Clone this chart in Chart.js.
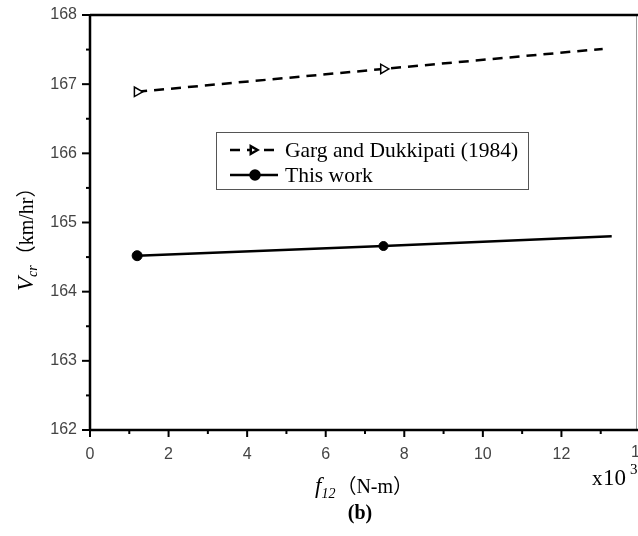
<!DOCTYPE html>
<html>
<head>
<meta charset="utf-8">
<script src="https://cdn.jsdelivr.net/npm/chart.js@4/dist/chart.umd.min.js"></script>
<style>
html,body{margin:0;padding:0;background:#fff;}
#wrap{width:638px;height:536px;position:relative;overflow:hidden;}
</style>
</head>
<body>
<div id="wrap"><canvas id="c" width="638" height="536"></canvas></div>
<script>
// ---- data ----
const gargX = [1.2, 7.47, 13.05];
const gargVcr = [166.89, 167.22, 167.51];
const thisX = [1.2, 7.47, 13.28];
const thisVcr = [164.52, 164.66, 164.80];
const seriesNames = ['Garg and Dukkipati (1984)', 'This work'];
const xTicks = [0, 2, 4, 6, 8, 10, 12, 14];
const yTicks = [162, 163, 164, 165, 166, 167, 168];

const toPts = (xs, ys) => xs.map((x, i) => ({x: x, y: ys[i]}));
const SERIF = '"Liberation Serif", "Times New Roman", "Noto Sans CJK SC", serif';
const SANS = '"Liberation Sans", Arial, sans-serif';
const X_LAST = xTicks[xTicks.length - 1];
const PLOT_RIGHT = 640; // plot frame runs just past the image edge

const axisPlugin = {
  id: 'axisPlugin',
  afterLayout(chart) {
    const x = chart.scales.x;
    x.right = PLOT_RIGHT;
    x.width = PLOT_RIGHT - x.left;
    x.configure();
    chart.chartArea.right = PLOT_RIGHT;
    chart.chartArea.width = PLOT_RIGHT - chart.chartArea.left;
  },
  afterDatasetsDraw(chart) {
    const {ctx, chartArea: a, scales: {x, y}} = chart;
    ctx.save();
    // thin right border (image edge)
    ctx.lineWidth = 1;
    ctx.strokeStyle = '#999';
    ctx.beginPath(); ctx.moveTo(636.5, a.top); ctx.lineTo(636.5, a.bottom); ctx.stroke();
    ctx.strokeStyle = '#000';
    ctx.lineWidth = 2.5;
    ctx.beginPath(); ctx.moveTo(a.left, a.top); ctx.lineTo(a.right, a.top); ctx.stroke();
    ctx.beginPath(); ctx.moveTo(a.left, a.top - 1); ctx.lineTo(a.left, a.bottom + 1); ctx.stroke();
    ctx.beginPath(); ctx.moveTo(a.left - 1, a.bottom); ctx.lineTo(a.right, a.bottom); ctx.stroke();
    ctx.lineWidth = 2;
    for (let v = 0; v <= 14; v += 1) {
      const px = x.getPixelForValue(v);
      const len = (v % 2 === 0) ? 7 : 4;
      ctx.beginPath(); ctx.moveTo(px, a.bottom); ctx.lineTo(px, a.bottom + len); ctx.stroke();
    }
    for (let v = 162; v <= 168.001; v += 0.5) {
      const py = y.getPixelForValue(v);
      const len = (Math.abs(v - Math.round(v)) < 1e-6) ? 8 : 4;
      ctx.beginPath(); ctx.moveTo(a.left, py); ctx.lineTo(a.left - len, py); ctx.stroke();
    }
    // last x tick label (clipped by the image edge in the reference)
    ctx.fillStyle = '#444';
    ctx.font = '16px ' + SANS;
    ctx.textAlign = 'center';
    ctx.textBaseline = 'middle';
    ctx.fillText(String(X_LAST), x.getPixelForValue(X_LAST), 453);
    ctx.restore();
  },
  afterDraw(chart) {
    const {ctx} = chart;
    ctx.save();
    // legend box
    const lx = 216, ly = 132, lw = 312, lh = 57;
    ctx.fillStyle = '#fff';
    ctx.fillRect(lx, ly, lw, lh);
    ctx.strokeStyle = '#555';
    ctx.lineWidth = 1;
    ctx.strokeRect(lx + 0.5, ly + 0.5, lw, lh);
    const ds = chart.data.datasets;
    const rows = [150, 175];
    ds.forEach((d, i) => {
      const yy = rows[i];
      ctx.strokeStyle = '#000';
      ctx.lineWidth = d.borderWidth;
      ctx.setLineDash(d.borderDash || []);
      ctx.beginPath(); ctx.moveTo(230, yy); ctx.lineTo(i === 0 ? 274 : 278, yy); ctx.stroke();
      ctx.setLineDash([]);
      Chart.helpers.drawPoint(ctx, {
        pointStyle: d.pointStyle,
        rotation: d.pointRotation || 0,
        radius: 4.5,
        borderWidth: 1.5
      }, i === 0 ? 253 : 255, yy);
      ctx.fillStyle = '#000';
      ctx.font = '21.5px ' + SERIF;
      ctx.textBaseline = 'middle';
      ctx.textAlign = 'left';
      ctx.fillText(d.label, 285, yy + 1);
    });
    ctx.fillStyle = '#000';
    // y title: V_cr （km/hr）
    ctx.save();
    ctx.translate(33, 291);
    ctx.rotate(-Math.PI / 2);
    ctx.textBaseline = 'alphabetic';
    ctx.textAlign = 'left';
    let cx = 0;
    ctx.font = 'italic 23px ' + SERIF;
    ctx.fillText('V', cx, 0); cx += ctx.measureText('V').width;
    ctx.font = 'italic 14px ' + SERIF;
    ctx.fillText('cr', cx, 4); cx += ctx.measureText('cr').width;
    ctx.font = '20px ' + SERIF;
    ctx.fillText('（km/hr）', cx, 0);
    ctx.restore();
    // x title: f_12 （N-m）
    ctx.textBaseline = 'alphabetic';
    ctx.textAlign = 'left';
    let tx = 315;
    ctx.font = 'italic 23px ' + SERIF;
    ctx.fillText('f', tx, 493); tx += ctx.measureText('f').width;
    ctx.font = 'italic 14px ' + SERIF;
    ctx.fillText('12', tx, 498); tx += ctx.measureText('12').width + 1;
    ctx.font = '20px ' + SERIF;
    ctx.fillText('（N-m）', tx, 493);
    // x 10^3
    ctx.font = '21px ' + SERIF;
    ctx.fillText('x', 592, 485);
    ctx.font = '23px ' + SERIF;
    ctx.fillText('10', 603, 485);
    ctx.font = '15px ' + SERIF;
    ctx.fillText('3', 630, 474);
    // (b)
    ctx.font = 'bold 20px ' + SERIF;
    ctx.textAlign = 'center';
    ctx.fillText('(b)', 360, 519);
    ctx.restore();
  }
};

new Chart(document.getElementById('c'), {
  type: 'scatter',
  data: {
    datasets: [
      {
        label: seriesNames[0],
        data: toPts(gargX, gargVcr),
        showLine: true,
        borderColor: '#000',
        borderWidth: 2.5,
        borderDash: [10, 7],
        pointStyle: 'triangle',
        pointRotation: 90,
        pointRadius: [5.5, 5.5, 0],
        pointBackgroundColor: '#fff',
        pointBorderColor: '#000',
        pointBorderWidth: 1.5
      },
      {
        label: seriesNames[1],
        data: toPts(thisX, thisVcr),
        showLine: true,
        borderColor: '#000',
        borderWidth: 2.5,
        pointStyle: 'circle',
        pointRadius: [5, 4.5, 0],
        pointBackgroundColor: '#000',
        pointBorderColor: '#000',
        pointBorderWidth: 1
      }
    ]
  },
  options: {
    responsive: false,
    animation: false,
    devicePixelRatio: 1,
    layout: {padding: {left: 0, top: 15, right: 0, bottom: 0}},
    plugins: {legend: {display: false}, tooltip: {enabled: false}},
    scales: {
      x: {
        type: 'linear', min: 0, max: X_LAST,
        afterBuildTicks: s => { s.ticks = xTicks.map(v => ({value: v})); },
        afterFit: s => { s.height = 106; s.paddingLeft = 0; s.paddingRight = 0; },
        grid: {display: false, drawTicks: false},
        border: {display: false},
        ticks: {autoSkip: false, maxRotation: 0, padding: 15, color: '#444',
                callback: v => (v === X_LAST ? '' : String(v)),
                font: {family: SANS, size: 16}}
      },
      y: {
        type: 'linear', min: 162, max: 168,
        afterBuildTicks: s => { s.ticks = yTicks.map(v => ({value: v})); },
        afterFit: s => { s.width = 90; s.paddingTop = 0; s.paddingBottom = 0; },
        grid: {display: false, drawTicks: false},
        border: {display: false},
        ticks: {padding: 13, color: '#444',
                font: {family: SANS, size: 16}}
      }
    }
  },
  plugins: [axisPlugin]
});
</script>
</body>
</html>
